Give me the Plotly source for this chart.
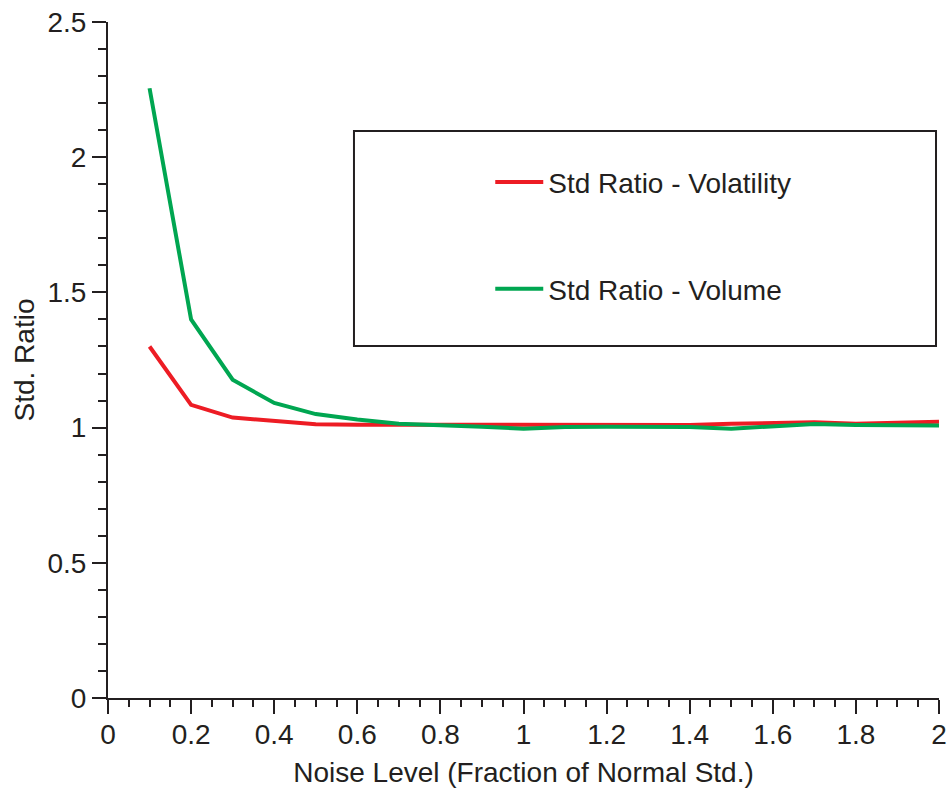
import plotly.graph_objects as go

noise_level = [0.1, 0.2, 0.3, 0.4, 0.5, 0.6, 0.7, 0.8, 0.9, 1.0,
               1.1, 1.2, 1.3, 1.4, 1.5, 1.6, 1.7, 1.8, 1.9, 2.0]
std_ratio_volatility = [1.30, 1.084, 1.037, 1.024, 1.012, 1.011, 1.011, 1.010, 1.010, 1.009,
                        1.009, 1.010, 1.010, 1.010, 1.014, 1.017, 1.020, 1.014, 1.018, 1.022]
std_ratio_volume = [2.255, 1.40, 1.177, 1.091, 1.050, 1.030, 1.014, 1.010, 1.003, 0.996,
                    1.002, 1.003, 1.004, 1.002, 0.996, 1.003, 1.013, 1.010, 1.010, 1.008]

FONT = "Liberation Sans, Arial, sans-serif"
INK = "#231F20"
RED = "#ED1C24"
GREEN = "#00A651"
FS = 28

fig = go.Figure()
fig.add_trace(go.Scatter(x=noise_level, y=std_ratio_volatility, mode="lines",
                         name="Std Ratio - Volatility", line=dict(color=RED, width=4),
                         legend="legend"))
fig.add_trace(go.Scatter(x=noise_level, y=std_ratio_volume, mode="lines",
                         name="Std Ratio - Volume", line=dict(color=GREEN, width=4),
                         legend="legend2"))

axis_common = dict(
    showgrid=False, zeroline=False, showline=True, linecolor=INK, linewidth=2,
    ticks="outside", tickcolor=INK, tickwidth=1.5, ticklen=14, automargin=False,
    ticklabeloverflow="allow",
    tickfont=dict(family=FONT, size=FS, color=INK),
)

fig.update_xaxes(range=[0, 2], dtick=0.2, tick0=0, **axis_common, ticklabelstandoff=-4,
                 minor=dict(dtick=0.05, ticks="outside", ticklen=7, tickcolor=INK, tickwidth=1.5),
                 title=dict(text="Noise Level (Fraction of Normal Std.)",
                            font=dict(family=FONT, size=FS, color=INK), standoff=14))
fig.update_yaxes(range=[0, 2.5], dtick=0.5, tick0=0, **axis_common,
                 minor=dict(dtick=0.1, ticks="outside", ticklen=8, tickcolor=INK, tickwidth=1.5),
                 title=dict(text="Std. Ratio",
                            font=dict(family=FONT, size=FS, color=INK), standoff=5))

legend_common = dict(bgcolor="rgba(0,0,0,0)", borderwidth=0, itemwidth=48,
                     font=dict(family=FONT, size=FS, color=INK),
                     xanchor="left", yanchor="middle")
fig.update_layout(
    width=952, height=791,
    margin=dict(l=108, r=13, t=22, b=93),
    plot_bgcolor="white", paper_bgcolor="white",
    legend=dict(x=0.46, y=0.763, **legend_common),
    legend2=dict(x=0.46, y=0.605, **legend_common),
    showlegend=True,
    shapes=[dict(type="rect", xref="paper", yref="paper",
                 x0=0.296, x1=0.9964, y0=0.5207, y1=0.8388,
                 line=dict(color=INK, width=2), fillcolor="rgba(0,0,0,0)")],
)

fig.write_html("out.html",
               config={"displayModeBar": False},
               post_script="document.body.style.margin='0px';document.body.style.overflow='hidden';")
